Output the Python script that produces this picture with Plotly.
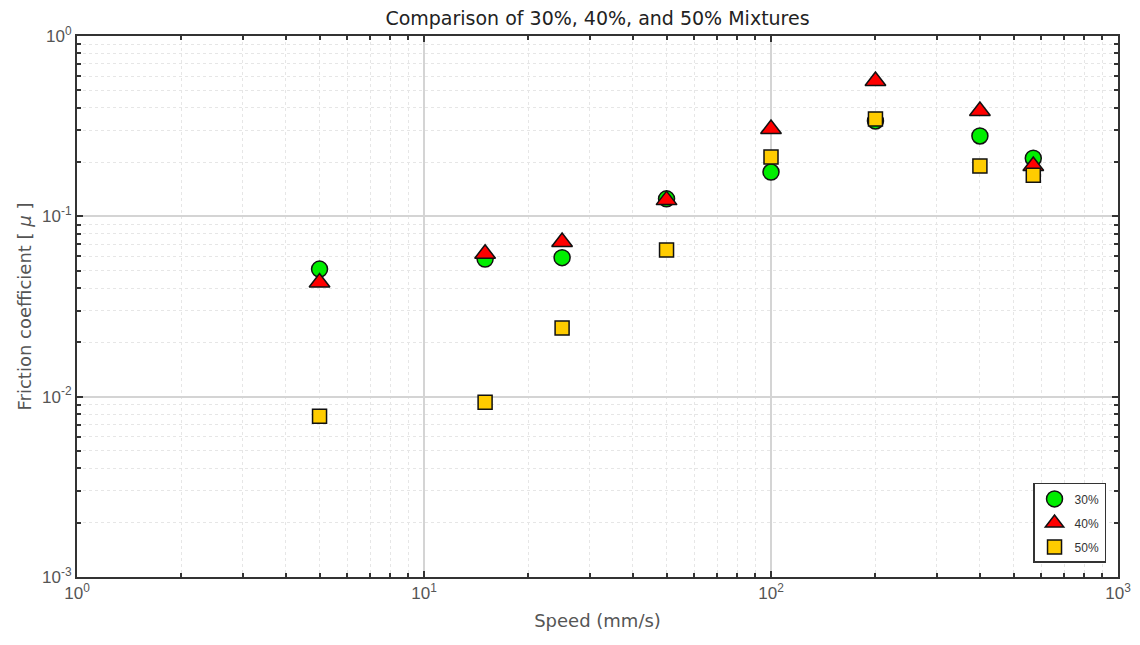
import plotly.graph_objects as go

speed = [5, 15, 25, 50, 100, 200, 400, 570]
mu_30 = [0.051, 0.058, 0.059, 0.125, 0.176, 0.338, 0.279, 0.210]
mu_40 = [0.043, 0.062, 0.072, 0.123, 0.305, 0.563, 0.384, 0.190]
mu_50 = [0.0078, 0.0093, 0.024, 0.065, 0.213, 0.347, 0.190, 0.169]

x_tickvals = [1, 10, 100, 1000]
x_ticktext = ["10<sup>0</sup>", "10<sup>1</sup>", "10<sup>2</sup>", "10<sup>3</sup>"]
y_tickvals = [0.001, 0.01, 0.1, 1]
y_ticktext = ["10<sup>-3</sup>", "10<sup>-2</sup>", "10<sup>-1</sup>", "10<sup>0</sup>"]

x_minor = [m * 10 ** e for e in range(0, 3) for m in range(2, 10)]
y_minor = [m * 10.0 ** e for e in range(-3, 0) for m in range(2, 10)]

FONT = "DejaVu Sans, Liberation Sans, Arial"

fig = go.Figure()
fig.add_trace(go.Scatter(x=speed, y=mu_30, mode="markers", name="30%", legendgroup="a",
                         marker=dict(symbol="circle", size=16, color="#00EE00",
                                     line=dict(color="#111", width=1.5))))
fig.add_trace(go.Scatter(x=speed, y=mu_40, mode="markers", name="40%", legendgroup="b",
                         marker=dict(symbol="triangle-up", size=18, color="#FF0000",
                                     line=dict(color="#111", width=1.5))))
fig.add_trace(go.Scatter(x=speed, y=mu_50, mode="markers", name="50%", legendgroup="c",
                         marker=dict(symbol="square", size=14, color="#FFCC00",
                                     line=dict(color="#111", width=1.5))))

axis_common = dict(
    type="log", showline=True, linecolor="#333", linewidth=2, mirror="ticks",
    ticks="inside", ticklen=6, tickcolor="#333", tickwidth=1.5, automargin=False,
    showgrid=True, gridcolor="#d4d4d4", gridwidth=2, zeroline=False,
    tickfont=dict(family="Liberation Sans, Arial", size=17, color="#555"),
)

fig.update_xaxes(
    **axis_common, range=[0, 3], tickvals=x_tickvals, ticktext=x_ticktext,
    minor=dict(tickvals=x_minor, ticks="inside", ticklen=4, tickcolor="#333",
               showgrid=True, gridcolor="#e6e6e6", griddash="dot", gridwidth=1),
    title=dict(text="Speed (mm/s)", font=dict(family=FONT, size=18, color="#555"),
               standoff=12),
)
fig.update_yaxes(
    **axis_common, range=[-3, 0], tickvals=y_tickvals, ticktext=y_ticktext,
    minor=dict(tickvals=y_minor, ticks="inside", ticklen=4, tickcolor="#333",
               showgrid=True, gridcolor="#e6e6e6", griddash="dot", gridwidth=1),
    title=dict(text="Friction coefficient [ <i>μ</i> ]",
               font=dict(family=FONT, size=18, color="#555"), standoff=6),
)

fig.update_layout(
    width=1140, height=645,
    margin=dict(l=77, r=22, t=36, b=68),
    paper_bgcolor="white", plot_bgcolor="white",
    title=dict(text="Comparison of 30%, 40%, and 50% Mixtures", x=0.5, xref="paper", xanchor="center",
               y=1 - 18 / 645, yref="container", yanchor="middle",
               font=dict(family=FONT, size=19, color="#222")),
    legend=dict(x=0.9885, y=0.026, xanchor="right", yanchor="bottom",
                bgcolor="white", bordercolor="#333", borderwidth=1.5,
                font=dict(family="Liberation Sans, Arial", size=12, color="#333"),
                itemsizing="trace", tracegroupgap=5),
    showlegend=True,
)

fig.write_html("out.html", config={"displayModeBar": False},
               post_script="document.body.style.margin='0';document.body.style.overflow='hidden';")
